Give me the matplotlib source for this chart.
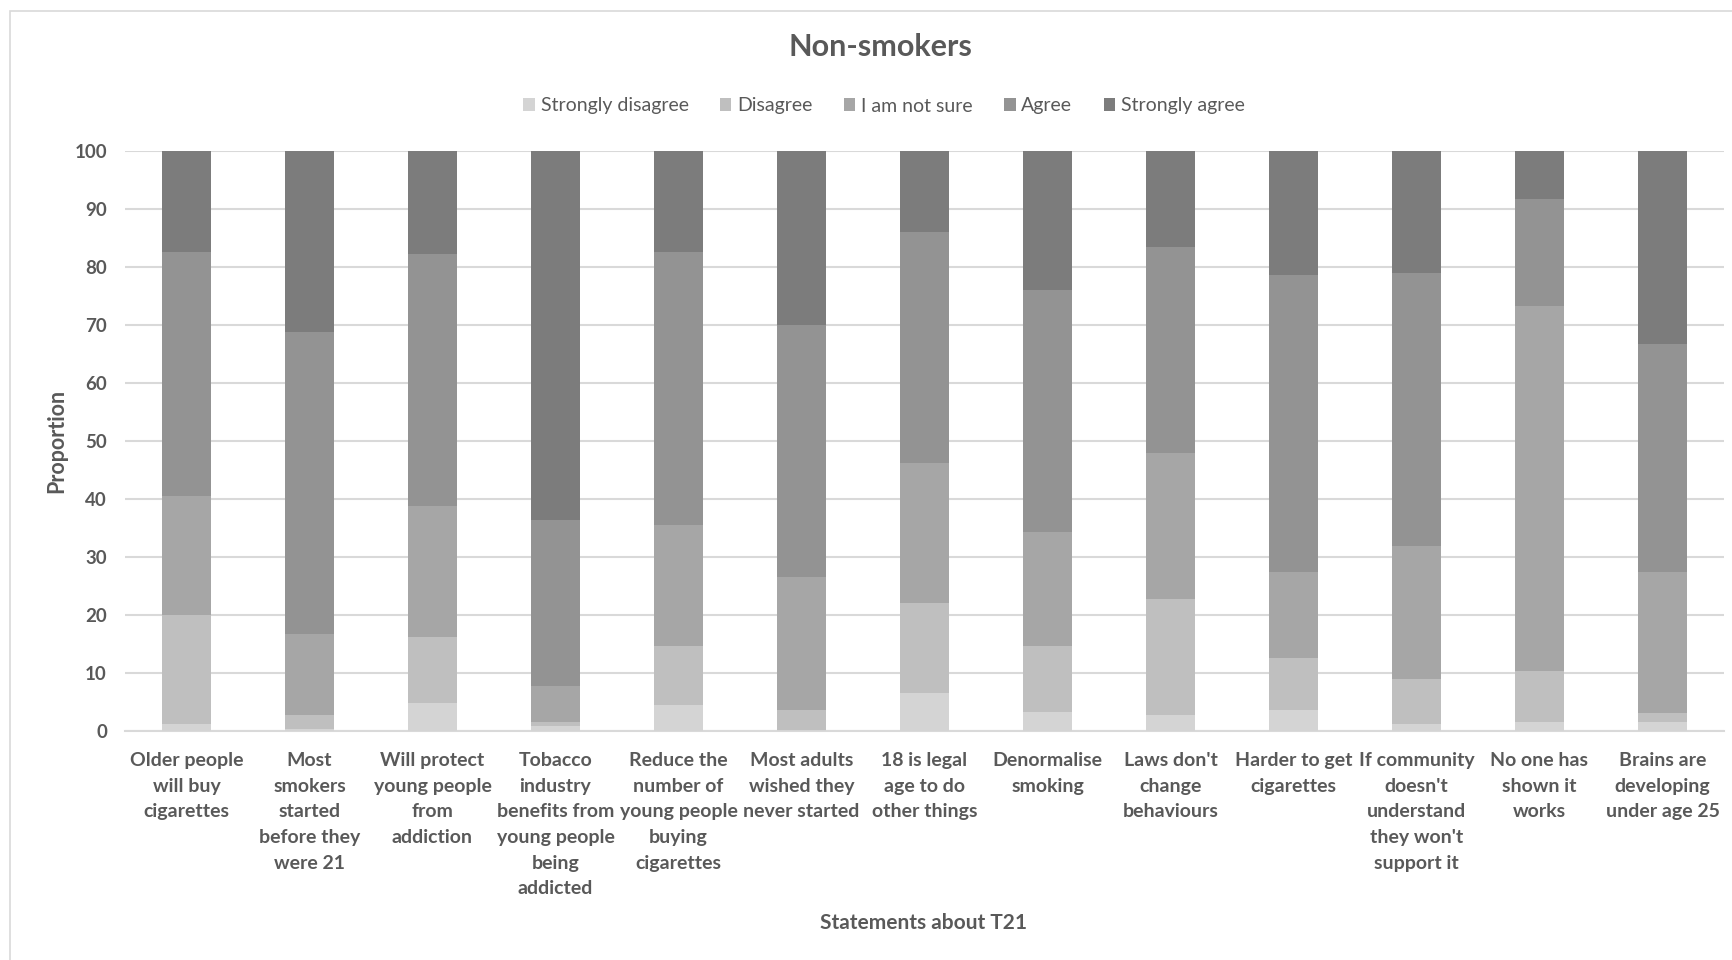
import numpy as np
import matplotlib
matplotlib.use("Agg")
import matplotlib.pyplot as plt
from matplotlib.patches import Rectangle

plt.rcParams['font.family'] = ['Lato', 'DejaVu Sans']

statements = [
    "Older people\nwill buy\ncigarettes",
    "Most\nsmokers\nstarted\nbefore they\nwere 21",
    "Will protect\nyoung people\nfrom\naddiction",
    "Tobacco\nindustry\nbenefits from\nyoung people\nbeing\naddicted",
    "Reduce the\nnumber of\nyoung people\nbuying\ncigarettes",
    "Most adults\nwished they\nnever started",
    "18 is legal\nage to do\nother things",
    "Denormalise\nsmoking",
    "Laws don't\nchange\nbehaviours",
    "Harder to get\ncigarettes",
    "If community\ndoesn't\nunderstand\nthey won't\nsupport it",
    "No one has\nshown it\nworks",
    "Brains are\ndeveloping\nunder age 25",
]

levels = ["Strongly disagree", "Disagree", "I am not sure", "Agree", "Strongly agree"]

strongly_disagree = [1.2, 0.4, 4.9, 0.8, 4.4, 0.2, 6.5, 3.2, 2.8, 3.7, 1.2, 1.6, 1.6]
disagree = [18.8, 2.4, 11.3, 0.8, 10.3, 3.5, 15.6, 11.5, 20.0, 8.9, 7.8, 8.7, 1.5]
not_sure = [20.5, 14.0, 22.6, 6.2, 20.9, 22.9, 24.1, 19.6, 25.2, 14.9, 22.9, 62.9, 24.4]
agree = [42.1, 52.0, 43.4, 28.5, 47.0, 43.4, 39.8, 41.8, 35.4, 51.1, 47.1, 18.5, 39.2]
strongly_agree = [17.4, 31.2, 17.8, 63.7, 17.4, 30.0, 14.0, 23.9, 16.6, 21.4, 21.0, 8.3, 33.3]

colors = ["#d4d4d4", "#bfbfbf", "#a6a6a6", "#939393", "#7c7c7c"]
text_col = "#595959"

fig = plt.figure(figsize=(17.33, 9.6), dpi=100)
fig.patches.append(Rectangle((0.006, -0.01), 1.2, 0.999, transform=fig.transFigure,
                             fill=False, edgecolor="#d9d9d9", linewidth=1.2))
ax = fig.add_axes([125 / 1733, 1 - 731 / 960, (1724 - 125) / 1733, (731 - 151) / 960])

x = np.arange(len(statements))
bottom = np.zeros(len(statements))
for name, vals, c in zip(levels, [strongly_disagree, disagree, not_sure, agree, strongly_agree], colors):
    ax.bar(x, vals, width=0.4, bottom=bottom, color=c, label=name, zorder=3)
    bottom += np.array(vals)

ax.set_xlim(-0.5, len(statements) - 0.5)
ax.set_ylim(0, 100)
ax.set_yticks(np.arange(0, 101, 10))
ax.grid(axis="y", color="#d9d9d9", linewidth=1.5, zorder=0)
for s in ["top", "right", "left"]:
    ax.spines[s].set_visible(False)
ax.spines["bottom"].set_color("#d9d9d9")
ax.spines["bottom"].set_linewidth(1.5)
ax.tick_params(axis="both", length=0, colors=text_col)
ax.tick_params(axis="y", pad=13)
ax.tick_params(axis="x", pad=15)
ax.set_xticks(x)
ax.set_xticklabels(statements, fontsize=14, fontweight="bold", color=text_col,
                   linespacing=1.62, va="top")
for lab in ax.get_yticklabels():
    lab.set_fontsize(13.5)
    lab.set_fontweight("bold")

ax.set_ylabel("Proportion", fontsize=15.5, fontweight="bold", color=text_col, labelpad=5)
fig.text(924 / 1733, 1 - 923 / 960, "Statements about T21", fontsize=15,
         fontweight="bold", color=text_col, ha="center", va="center")
fig.text(880 / 1733, 1 - 47 / 960, "Non-smokers", fontsize=22, fontweight="bold",
         color=text_col, ha="center", va="center")

leg = fig.legend(loc="center", bbox_to_anchor=(884 / 1733, 1 - 106 / 960), ncol=5,
                 frameon=False, fontsize=14, handlelength=0.6, handleheight=0.6,
                 handletextpad=0.3, columnspacing=1.6)
for t in leg.get_texts():
    t.set_color(text_col)

fig.savefig("out.png", dpi=100)
